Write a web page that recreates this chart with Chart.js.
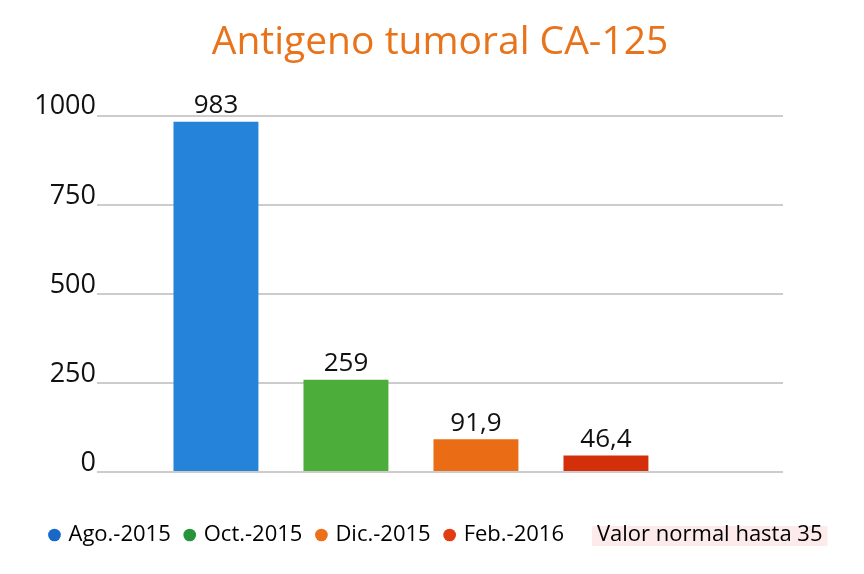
<!DOCTYPE html>
<html>
<head>
<meta charset="utf-8">
<script src="https://cdn.jsdelivr.net/npm/chart.js@4.4.1/dist/chart.umd.min.js"></script>
<style>
    body { margin: 0; background: #fff; }
    #wrap { width: 864px; height: 574px; position: relative; }
</style>
</head>
<body>
<div id="wrap"><canvas id="ca125-chart"></canvas></div>
<script>
// datos
const chartTitle = 'Antigeno tumoral CA-125';
const months     = ['Ago.-2015', 'Oct.-2015', 'Dic.-2015', 'Feb.-2016'];
const values     = [983, 259, 91.9, 46.4];
const yTicks     = [0, 250, 500, 750, 1000];
const normalNote = 'Valor normal hasta 35';

const barColors    = ['#2683da', '#4cad3a', '#ea6c14', '#d32f0b'];
const legendColors = ['#1868c8', '#28933a', '#ec7019', '#e23c12'];

const FONT = "'Open Sans', sans-serif";
const legendFontSize = 22;
const legendBox = 6;

Chart.defaults.font.family = FONT;
Chart.defaults.color = '#111';

// etiqueta con coma decimal
const fmt = v => String(v).replace('.', ',');

const valueLabels = {
    id: 'valueLabels',
    afterDatasetsDraw(chart) {
        const ctx = chart.ctx;
        const meta = chart.getDatasetMeta(0);
        ctx.save();
        ctx.font = '26px ' + FONT;
        ctx.fillStyle = '#111';
        ctx.textAlign = 'center';
        ctx.textBaseline = 'bottom';
        meta.data.forEach((bar, i) => {
            ctx.fillText(fmt(values[i]), bar.x, bar.y - 3);
        });
        ctx.restore();
    }
};

// fondo rosado para la nota del valor normal
const noteBackground = {
    id: 'noteBackground',
    beforeDraw(chart) {
        const lg = chart.legend;
        if (!lg || !lg.legendHitBoxes) return;
        const box = lg.legendHitBoxes[months.length];
        if (!box) return;
        const ctx = chart.ctx;
        ctx.save();
        ctx.font = legendFontSize + 'px ' + FONT;
        const w = ctx.measureText(normalNote).width;
        const x0 = box.left + legendBox + legendFontSize / 2;
        const cy = box.top + box.height / 2;
        ctx.fillStyle = '#fcebea';
        ctx.fillRect(x0 - 5, cy - 9, w + 10, 20);
        ctx.restore();
    }
};

new Chart(document.getElementById('ca125-chart'), {
    type: 'bar',
    data: {
        datasets: [{
            data: values.map((v, i) => ({ x: i, y: v })),
            backgroundColor: barColors,
            categoryPercentage: 0.714,
            barPercentage: 1
        }]
    },
    options: {
        responsive: true,
        maintainAspectRatio: false,
        animation: false,
        layout: { padding: { left: 10, right: 0, top: 0, bottom: 18 } },
        scales: {
            x: {
                type: 'linear',
                min: -0.915,
                max: 4.362,
                offset: false,
                afterFit: axis => { axis.height = 36; },
                border: { display: false },
                grid: { display: false },
                ticks: { display: false }
            },
            y: {
                min: 0,
                max: 1000,
                afterBuildTicks: axis => { axis.ticks = yTicks.map(v => ({ value: v })); },
                afterFit: axis => { axis.width = 87; },
                border: { display: false },
                grid: { color: '#cccccc', lineWidth: 2, drawTicks: false },
                ticks: {
                    font: { size: 27 },
                    color: '#111',
                    padding: 1,
                    labelOffset: -9,
                    callback: v => String(v)
                }
            },
            // eje vacio a la derecha para dejar el margen del grafico
            yRight: {
                position: 'right',
                min: 0,
                max: 1000,
                afterFit: axis => { axis.width = 81; },
                border: { display: false },
                grid: { drawOnChartArea: false, drawTicks: false },
                ticks: { display: false }
            }
        },
        plugins: {
            title: {
                display: true,
                fullSize: false,
                text: chartTitle,
                color: '#e8731a',
                font: { size: 39, weight: 'normal' },
                padding: { top: 19, bottom: 50 }
            },
            legend: {
                position: 'bottom',
                labels: {
                    usePointStyle: true,
                    boxWidth: legendBox,
                    boxHeight: 9,
                    padding: 16,
                    font: { size: legendFontSize },
                    color: '#111',
                    generateLabels: () => {
                        const items = months.map((m, i) => ({
                            text: m,
                            fillStyle: legendColors[i],
                            strokeStyle: legendColors[i],
                            lineWidth: 0,
                            pointStyle: 'circle',
                            datasetIndex: 0,
                            index: i
                        }));
                        items.push({
                            text: normalNote,
                            fillStyle: 'rgba(0,0,0,0)',
                            strokeStyle: 'rgba(0,0,0,0)',
                            lineWidth: 0,
                            pointStyle: 'circle',
                            datasetIndex: 0,
                            index: months.length
                        });
                        return items;
                    }
                },
                onClick: () => {}
            },
            tooltip: { enabled: false }
        }
    },
    plugins: [noteBackground, valueLabels]
});
</script>
</body>
</html>
